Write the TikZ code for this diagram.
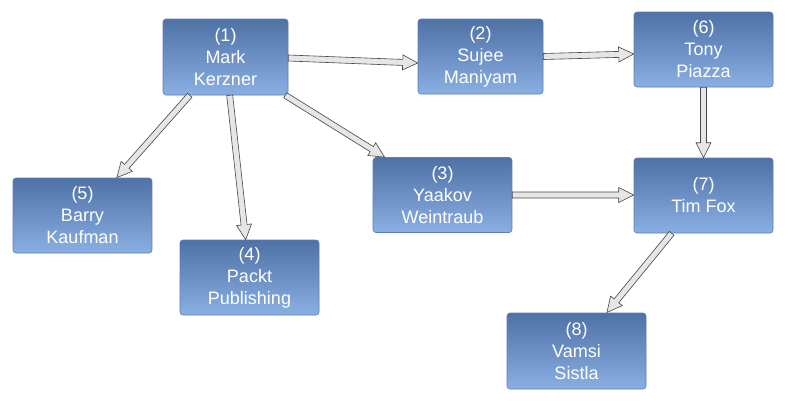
\documentclass[tikz,border=0pt]{standalone}
\usepackage{fontspec}
\setmainfont{Liberation Sans}
\usetikzlibrary{calc}
\definecolor{boxtop}{RGB}{78,113,166}
\definecolor{boxbot}{RGB}{138,175,227}
\definecolor{boxline}{RGB}{95,125,175}
\definecolor{arrfill}{RGB}{230,230,230}
\definecolor{arrline}{RGB}{70,70,70}
\tikzset{
 box/.style={draw=boxline, line width=0.6pt, rounded corners=3pt, top color=boxtop, bottom color=boxbot, text=white, align=center, inner sep=0pt, font=\fontsize{18}{22}\selectfont},
 wbox/.style={box, minimum width=139pt, minimum height=75pt},
 nbox/.style={box, minimum width=125pt, minimum height=76pt},
 barrow/.style={fill=arrfill, draw=arrline, line width=0.6pt, line join=miter},
}
\newcommand\blockarrow[2]{%
  \path let \p1=($(#2)-(#1)$), \n1={atan2(\y1,\x1)}, \n2={veclen(\x1,\y1)} in \pgfextra{\xdef\baang{\n1}\xdef\balen{\n2}};
  \draw[barrow, shift={(#1)}, rotate=\baang] (0pt,-3pt) -- ({\balen-15pt},-3pt) -- ({\balen-15pt},-7.5pt) -- ({\balen},0pt) -- ({\balen-15pt},7.5pt) -- ({\balen-15pt},3pt) -- (0pt,3pt) -- cycle;
}
\begin{document}
\begin{tikzpicture}[x=1pt,y=-1pt]
\fill[white] (0,0) rectangle (787,402);
\useasboundingbox (0,0) rectangle (787,402);
\node[nbox] (n1) at (225.5,57) {(1)\\Mark\\Kerzner};
\node[nbox, minimum height=75pt] (n2) at (480.5,56.5) {(2)\\Sujee\\Maniyam};
\node[wbox] (n6) at (703.5,49.5) {(6)\\Tony\\Piazza};
\node[wbox] (n3) at (442.5,195) {(3)\\Yaakov\\Weintraub};
\node[wbox] (n7) at (703.5,195.5) {(7)\\Tim Fox};
\node[wbox] (n5) at (82.5,215.5) {(5)\\Barry\\Kaufman};
\node[wbox] (n4) at (249.5,277.5) {(4)\\Packt\\Publishing};
\node[wbox, minimum height=76pt] (n8) at (576.5,351) {(8)\\Vamsi\\Sistla};
% connector end points
\coordinate (s12) at ($(n1.east)+(0,1)$);
\coordinate (t12) at ($(n2.west)+(0,6.5)$);
\coordinate (s26) at (n2.east);
\coordinate (t26) at ($(n6.west)+(0,4.5)$);
\coordinate (s67) at (n6.south);
\coordinate (t67) at (n7.north);
\coordinate (s37) at (n3.east);
\coordinate (t37) at ($(n7.west)+(0,-0.5)$);
\coordinate (s13) at ($(n1.south east)+(-3,0)$);
\coordinate (t13) at ($(n3.north west)+(12,0)$);
\coordinate (s15) at ($(n1.south west)+(27,0)$);
\coordinate (t15) at ($(n5.north west)+(104,0)$);
\coordinate (s14) at ($(n1.south west)+(67,0)$);
\coordinate (t14) at ($(n4.north west)+(66,0)$);
\coordinate (s78) at ($(n7.south west)+(38,0)$);
\coordinate (t78) at ($(n8.north west)+(100,0)$);
\blockarrow{s12}{t12}
\blockarrow{s26}{t26}
\blockarrow{s67}{t67}
\blockarrow{s37}{t37}
\blockarrow{s13}{t13}
\blockarrow{s15}{t15}
\blockarrow{s14}{t14}
\blockarrow{s78}{t78}
\end{tikzpicture}
\end{document}
